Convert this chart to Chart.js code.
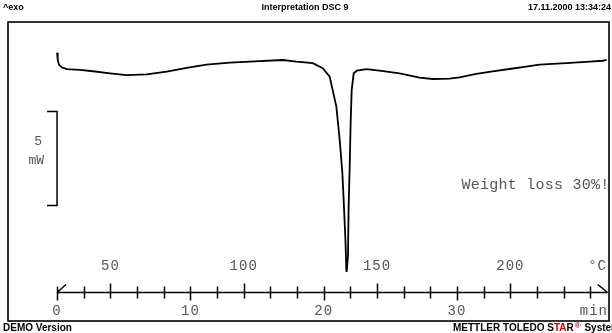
<!DOCTYPE html>
<html>
<head>
<meta charset="utf-8">
<title>Interpretation DSC 9</title>
<script src="https://cdn.jsdelivr.net/npm/chart.js@4/dist/chart.umd.min.js"></script>
<style>
  html, body { margin: 0; padding: 0; background: #fff; }
  canvas { display: block; }
</style>
</head>
<body>
<canvas id="myChart" width="612" height="333"></canvas>
<script>
// DATOS DE LA CURVA DSC (tiempo en min, flujo de calor en mW)
const tiempo = [0, 0.05, 0.15, 0.35, 0.73, 1.72, 2.7, 3.97, 5.22, 6.72,
  8.22, 9.72, 11.21, 12.96, 14.46, 16.93, 17.96, 19.18, 19.93, 20.45,
  20.67, 20.95, 21.2, 21.4, 21.52, 21.63, 21.7, 21.72, 21.82, 21.87,
  21.95, 22.02, 22.1, 22.25, 22.49, 23.2, 24.19, 25.69, 27.19, 28.16,
  29.44, 30.19, 31.44, 32.68, 33.93, 35.18, 36.18, 38.18, 39.67, 40.92, 41.22];
const flujo = [0.92, 0.53, 0.27, 0.14, 0.04, 0, -0.07, -0.18, -0.27, -0.23,
  -0.09, 0.11, 0.28, 0.39, 0.44, 0.53, 0.44, 0.36, 0.09, -0.36,
  -1.06, -1.95, -3.72, -5.48, -7.27, -9.04, -10.64, -10.74, -9.93, -7.27,
  -5.14, -2.84, -1.06, -0.18, -0.04, 0.04, -0.04, -0.18, -0.41, -0.48,
  -0.46, -0.39, -0.21, -0.07, 0.05, 0.18, 0.28, 0.36, 0.43, 0.49, 0.53];

// EJES: TIEMPO (min) Y TEMPERATURA (°C)
const ticksTiempo = [0, 2, 4, 6, 8, 10, 12, 14, 16, 18, 20, 22, 24, 26, 28, 30, 32, 34, 36, 38, 40];
const etiquetasTiempo = [0, 10, 20, 30];
const etiquetasTemp = [50, 100, 150, 200];
const tempInicial = 30;   // °C a t = 0
const velocidad = 5;      // K/min
const rangoTiempo = [-3.68, 41.4];
const rangoFlujo = [-13.35, 2.55];
const nivelRegla = -11.81;
const finRegla = 41.3;

// BARRA DE ESCALA Y ANOTACION
const escalaMW = 5;
const escalaTope = -2.18;
const nota = "Weight loss 30%!";
const notaPos = [30.34, -6.12];

// TEXTOS DE CABECERA Y PIE
const titulo = "Interpretation DSC 9";
const exo = "^exo";
const fecha = "17.11.2000 13:34:24";
const pieIzq = "DEMO Version";

const puntos = tiempo.map((t, i) => ({ x: t, y: flujo[i] }));

//PLUGIN PARA EL MARCO, LA REGLA Y LOS TEXTOS
const marcoDSC = {
  id: "marcoDSC",
  afterDraw(chart) {
    const c = chart.ctx;
    const area = chart.chartArea;
    const sx = chart.scales.x;
    const st = chart.scales.temp;
    const sy = chart.scales.y;
    c.save();

    // marco
    c.strokeStyle = "#000";
    c.lineWidth = 1.6;
    c.strokeRect(area.left, area.top, area.right - area.left, area.bottom - area.top);

    // regla de tiempo / temperatura
    const yr = Math.round(sy.getPixelForValue(nivelRegla)) + 0.5;
    const x0 = sx.getPixelForValue(0);
    const xf = sx.getPixelForValue(finRegla);
    c.lineWidth = 1.5;
    c.beginPath();
    c.moveTo(x0, yr);
    c.lineTo(xf, yr);
    ticksTiempo.forEach((t) => {
      const xt = Math.round(sx.getPixelForValue(t)) + 0.5;
      const abajo = etiquetasTiempo.includes(t) ? 8 : 6;
      c.moveTo(xt, yr - 6);
      c.lineTo(xt, yr + abajo);
    });
    etiquetasTemp.forEach((T) => {
      const xt = Math.round(st.getPixelForValue(T)) + 0.5;
      c.moveTo(xt, yr - 9);
      c.lineTo(xt, yr);
    });
    c.moveTo(x0, yr);
    c.lineTo(x0 + 9, yr - 8);
    c.moveTo(xf - 10, yr - 8);
    c.lineTo(xf, yr);
    c.stroke();

    // etiquetas de la regla
    c.fillStyle = "#555";
    c.font = "14px 'Liberation Mono', monospace";
    c.letterSpacing = "1px";
    c.textBaseline = "middle";
    c.textAlign = "center";
    etiquetasTemp.forEach((T) => {
      c.fillText(String(T), st.getPixelForValue(T), yr - 26);
    });
    etiquetasTiempo.forEach((t) => {
      c.fillText(String(t), sx.getPixelForValue(t), yr + 19);
    });
    c.textAlign = "right";
    c.fillText("°C", area.right - 2, yr - 26);
    c.fillText("min", area.right - 1, yr + 19);

    // barra de escala 5 mW
    const yTop = Math.round(sy.getPixelForValue(escalaTope)) + 0.5;
    const yBot = Math.round(sy.getPixelForValue(escalaTope - escalaMW)) + 0.5;
    c.lineWidth = 1.5;
    c.beginPath();
    c.moveTo(x0 - 10, yTop);
    c.lineTo(x0, yTop);
    c.lineTo(x0, yBot);
    c.lineTo(x0 - 10, yBot);
    c.stroke();
    c.letterSpacing = "0px";
    c.font = "13px 'Liberation Mono', monospace";
    c.fillText(String(escalaMW), x0 - 15, yTop + 30);
    c.fillText("mW", x0 - 13, yTop + 49);

    // anotacion (recortada por el marco)
    c.save();
    c.beginPath();
    c.rect(area.left, area.top, area.right - area.left - 1, area.bottom - area.top);
    c.clip();
    c.textAlign = "left";
    c.letterSpacing = "0.25px";
    c.font = "15px 'Liberation Mono', monospace";
    c.fillText(nota, sx.getPixelForValue(notaPos[0]), sy.getPixelForValue(notaPos[1]));
    c.restore();

    // cabecera
    c.fillStyle = "#000";
    c.letterSpacing = "0px";
    c.font = "bold 9px 'Liberation Sans', Arial, sans-serif";
    c.textBaseline = "middle";
    c.textAlign = "left";
    c.fillText(exo, 3, 8);
    c.textAlign = "center";
    c.fillText(titulo, 305, 8);
    c.textAlign = "right";
    c.fillText(fecha, 611, 8);

    // pie
    c.font = "bold 10px 'Liberation Sans', Arial, sans-serif";
    c.textAlign = "left";
    c.fillText(pieIzq, 3, 328);
    let xp = 453;
    const partes = [["METTLER TOLEDO S", "#000"], ["TA", "#d00000"], ["R", "#000"]];
    partes.forEach((p) => {
      c.fillStyle = p[1];
      c.fillText(p[0], xp, 328);
      xp += c.measureText(p[0]).width;
    });
    c.fillStyle = "#d00000";
    c.font = "bold 8px 'Liberation Sans', Arial, sans-serif";
    c.fillText("®", xp + 1, 326);
    xp += c.measureText("®").width + 2;
    c.fillStyle = "#000";
    c.font = "bold 10px 'Liberation Sans', Arial, sans-serif";
    c.fillText(" System", xp, 328);

    c.restore();
  }
};

//FUNCION GRAFICO
function graficoDSC() {
  const ctx = document.getElementById("myChart").getContext("2d");

  const myChart = new Chart(ctx, {
    type: "line",
    data: {
      datasets: [
        {
          label: "DSC",
          data: puntos,
          borderColor: "#000",
          borderWidth: 1.8,
          pointRadius: 0,
          tension: 0,
          fill: false,
        },
      ],
    },
    options: {
      responsive: false,
      devicePixelRatio: 1,
      animation: false,
      events: [],
      layout: { padding: { left: 8, top: 22, right: 3, bottom: 12 } },
      plugins: { legend: { display: false }, tooltip: { enabled: false } },
      scales: {
        x: { type: "linear", display: false, min: rangoTiempo[0], max: rangoTiempo[1] },
        temp: {
          type: "linear",
          axis: "x",
          position: "bottom",
          display: false,
          min: tempInicial + velocidad * rangoTiempo[0],
          max: tempInicial + velocidad * rangoTiempo[1],
        },
        y: { type: "linear", display: false, min: rangoFlujo[0], max: rangoFlujo[1] },
      },
    },
    plugins: [marcoDSC],
  });
}

window.onload = function () {
  graficoDSC();
};
</script>
</body>
</html>
